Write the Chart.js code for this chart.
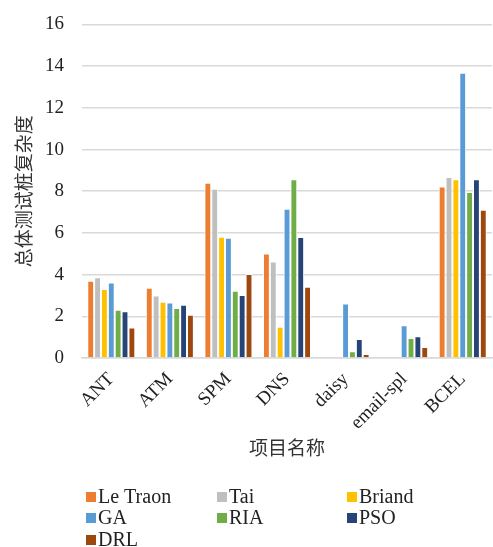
<!DOCTYPE html>
<html>
<head>
<meta charset="utf-8">
<script src="https://cdn.jsdelivr.net/npm/chart.js@4"></script>
<style>
  html, body { margin: 0; padding: 0; background: #fff; overflow: hidden; }
  #c { display: block; margin-top: -5px; }
</style>
</head>
<body>
<canvas id="c" width="493" height="552"></canvas>
<script>
// Projects on the x axis
const categories = ["ANT", "ATM", "SPM", "DNS", "daisy", "email-spl", "BCEL"];
// Overall test stub complexity per approach
const leTraon = [3.71, 3.37, 8.41, 5.02, 0, 0, 8.23];
const tai     = [3.88, 3.00, 8.12, 4.63, 0, 0, 8.68];
const briand  = [3.31, 2.70, 5.82, 1.50, 0, 0, 8.58];
const ga      = [3.63, 2.67, 5.77, 7.16, 2.62, 1.58, 13.68];
const ria     = [2.32, 2.40, 3.23, 8.58, 0.33, 0.96, 7.96];
const pso     = [2.24, 2.56, 3.02, 5.80, 0.91, 1.05, 8.58];
const drl     = [1.47, 2.08, 4.03, 3.42, 0.20, 0.53, 7.11];
const yTicks  = [0, 2, 4, 6, 8, 10, 12, 14, 16];

const seriesNames  = ["Le Traon", "Tai", "Briand", "GA", "RIA", "PSO", "DRL"];
const seriesValues = [leTraon, tai, briand, ga, ria, pso, drl];
const seriesColors = ["#ED7D31", "#BFBFBF", "#FFC000", "#5B9BD5", "#70AD47", "#264478", "#9E480E"];

const serif = "'Liberation Serif', serif";
const cjk = "'Noto Sans CJK SC', sans-serif";

const datasets = seriesNames.map((name, i) => ({
  label: name,
  data: seriesValues[i],
  backgroundColor: seriesColors[i],
  borderColor: "#ffffff",
  borderWidth: { left: 1, right: 1, top: 1, bottom: 0 },
  borderSkipped: false,
  categoryPercentage: 0.82,
  barPercentage: 1.0
}));

// Legend laid out in three columns beneath the axis title
const gridLegend = {
  id: "gridLegend",
  afterDraw(chart) {
    const ctx = chart.ctx;
    const colX = [86, 217, 347];
    const rowY = [502, 523, 545];
    ctx.save();
    ctx.font = "20px " + serif;
    ctx.textBaseline = "middle";
    ctx.textAlign = "left";
    chart.data.datasets.forEach((ds, i) => {
      const x = colX[i % 3], y = rowY[Math.floor(i / 3)];
      ctx.fillStyle = ds.backgroundColor;
      ctx.fillRect(x, y - 5, 10, 10);
      ctx.fillStyle = "#222";
      ctx.fillText(ds.label, x + 12, y + 1);
    });
    ctx.restore();
  }
};

new Chart(document.getElementById("c"), {
  type: "bar",
  data: { labels: categories, datasets },
  options: {
    responsive: false,
    animation: false,
    layout: { padding: { left: 12, right: 1, top: 0, bottom: 88 } },
    plugins: { legend: { display: false }, tooltip: { enabled: false } },
    scales: {
      x: {
        grid: { display: false },
        border: { display: true, color: "#D9D9D9", width: 1.5 },
        ticks: {
          color: "#222", font: { family: serif, size: 19 },
          minRotation: 45, maxRotation: 45, padding: 2
        },
        title: {
          display: true, text: "项目名称", color: "#333",
          font: { family: cjk, size: 19 }, padding: { top: 0, bottom: 0 }
        }
      },
      y: {
        min: 0, max: 16,
        afterBuildTicks: (s) => { s.ticks = yTicks.map(v => ({ value: v })); },
        afterFit: (s) => { s.width = 70; },
        grid: { color: "#D9D9D9", lineWidth: 1.5, drawTicks: false },
        border: { display: false },
        ticks: { color: "#222", font: { family: serif, size: 19 }, padding: 18 },
        title: {
          display: true, text: "总体测试桩复杂度", color: "#333",
          font: { family: cjk, size: 19 }, padding: 0
        }
      }
    }
  },
  plugins: [gridLegend]
});
</script>
</body>
</html>
